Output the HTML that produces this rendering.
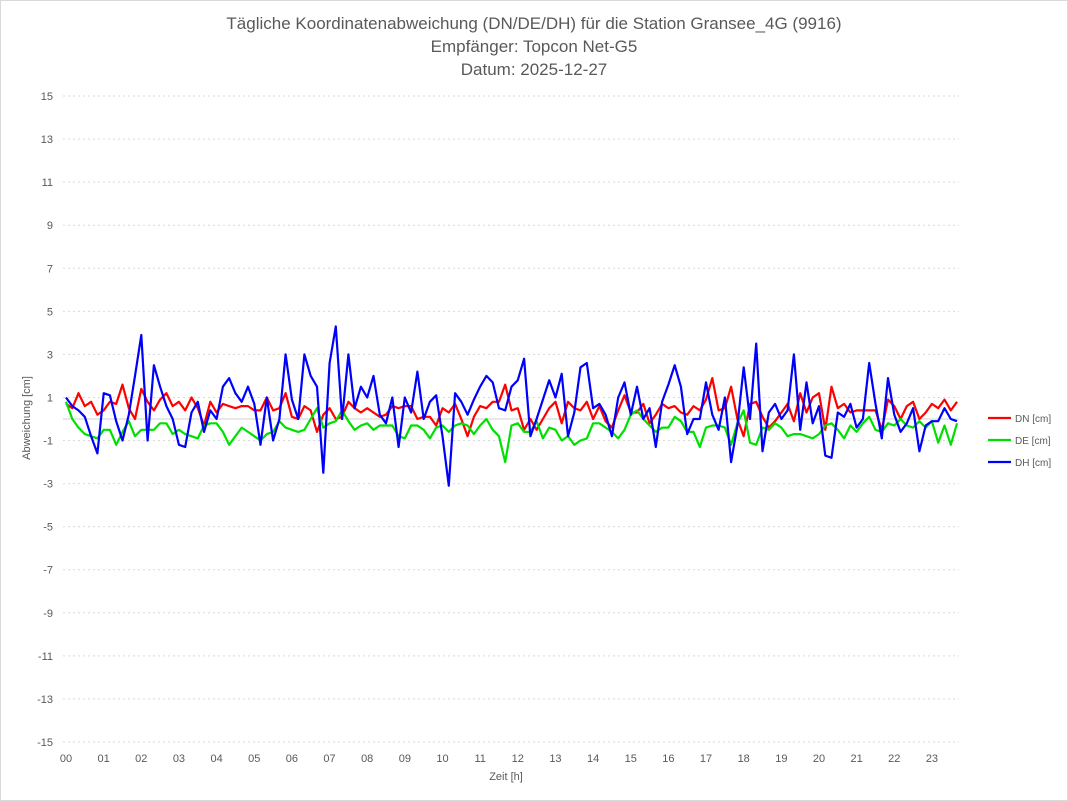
<!DOCTYPE html>
<html><head><meta charset="utf-8"><style>
body{margin:0;background:#fff}
#wrap{position:relative;width:1066px;height:799px;border:1px solid #d9d9d9;font-family:"Liberation Sans",sans-serif;overflow:hidden}
svg text{font-family:"Liberation Sans",sans-serif}
</style></head><body>
<div id="wrap">
<svg id="chart" width="1066" height="799">
<g fill="#595959" font-size="17" text-anchor="middle">
<text x="533" y="28">Tägliche Koordinatenabweichung (DN/DE/DH) für die Station Gransee_4G (9916)</text>
<text x="533" y="51">Empfänger: Topcon Net-G5</text>
<text x="533" y="74">Datum: 2025-12-27</text>
</g>
<g id="grid"></g>
<g id="yticks"></g>
<g id="xticks"></g>
<g id="series"></g>
<text x="0" y="0" transform="translate(29,417) rotate(-90)" text-anchor="middle" font-size="11" fill="#595959">Abweichung [cm]</text>
<text x="505" y="779" text-anchor="middle" font-size="11" fill="#595959">Zeit [h]</text>
<g id="legend"></g>
</svg>
</div>
<script>
const yTicks=[15,13,11,9,7,5,3,1,-1,-3,-5,-7,-9,-11,-13,-15];
const xTickLabels=["00","01","02","03","04","05","06","07","08","09","10","11","12","13","14","15","16","17","18","19","20","21","22","23"];
const seriesNames=["DN [cm]","DE [cm]","DH [cm]"];
const dn=[0.7,0.5,1.2,0.6,0.8,0.2,0.4,0.8,0.7,1.6,0.5,0.0,1.4,0.8,0.4,0.9,1.2,0.6,0.8,0.4,1.0,0.5,-0.3,0.8,
0.3,0.7,0.6,0.5,0.6,0.6,0.4,0.4,1.0,0.4,0.5,1.2,0.1,0.0,0.6,0.4,-0.6,0.2,0.5,0.0,0.1,0.8,0.5,0.3,
0.5,0.3,0.1,0.2,0.6,0.5,0.6,0.6,0.0,0.1,0.1,-0.3,0.5,0.3,0.7,0.0,-0.8,0.1,0.6,0.5,0.8,0.8,1.6,0.4,
0.5,-0.5,0.0,-0.5,0.0,0.5,0.8,-0.2,0.8,0.5,0.4,0.8,0.0,0.6,-0.1,-0.4,0.4,1.1,0.3,0.3,0.7,-0.2,0.2,0.7,
0.5,0.6,0.3,0.2,0.6,0.4,0.9,1.9,0.4,0.5,1.5,0.0,-0.8,0.7,0.8,0.1,-0.4,-0.1,0.3,0.7,-0.1,1.2,0.3,1.0,
1.2,-0.5,1.5,0.5,0.7,0.3,0.4,0.4,0.4,0.4,-0.5,0.9,0.6,0.0,0.6,0.8,0.0,0.3,0.7,0.5,0.9,0.4,0.8];
const de=[0.8,0.0,-0.4,-0.7,-0.8,-0.9,-0.5,-0.5,-1.2,-0.6,-0.1,-0.8,-0.5,-0.5,-0.5,-0.2,-0.2,-0.7,-0.5,-0.7,-0.8,-0.9,-0.3,-0.2,
-0.2,-0.6,-1.2,-0.8,-0.4,-0.6,-0.8,-1.0,-0.7,-0.6,-0.1,-0.4,-0.5,-0.6,-0.5,0.0,0.5,-0.4,-0.2,-0.1,0.4,-0.1,-0.5,-0.3,
-0.2,-0.5,-0.3,-0.3,-0.3,-0.8,-0.9,-0.3,-0.3,-0.5,-0.9,-0.4,-0.3,-0.6,-0.3,-0.2,-0.3,-0.7,-0.3,0.0,-0.5,-0.8,-2.0,-0.3,
-0.2,-0.6,-0.6,-0.1,-0.9,-0.4,-0.5,-1.0,-0.8,-1.2,-1.0,-0.9,-0.2,-0.2,-0.4,-0.6,-0.9,-0.5,0.2,0.4,0.0,-0.3,-0.6,-0.4,
-0.4,0.1,-0.1,-0.6,-0.6,-1.3,-0.4,-0.3,-0.3,-0.4,-1.2,-0.2,0.4,-1.1,-1.2,-0.4,-0.5,-0.2,-0.4,-0.8,-0.7,-0.7,-0.8,-0.9,
-0.7,-0.3,-0.2,-0.5,-0.9,-0.3,-0.6,-0.2,0.1,-0.5,-0.6,-0.2,-0.3,0.0,-0.3,-0.4,-0.1,-0.4,-0.1,-1.1,-0.3,-1.2,-0.2];
const dh=[1.0,0.6,0.4,0.1,-0.8,-1.6,1.2,1.1,-0.1,-1.0,0.2,2.0,3.9,-1.0,2.5,1.5,0.6,0.0,-1.2,-1.3,0.3,0.8,-0.6,0.4,
0.0,1.5,1.9,1.2,0.8,1.5,0.7,-1.2,1.0,-1.0,0.0,3.0,0.9,0.0,3.0,2.0,1.5,-2.5,2.6,4.3,0.0,3.0,0.5,1.5,
1.0,2.0,0.2,-0.2,1.0,-1.3,1.0,0.3,2.2,0.0,0.8,1.1,-0.8,-3.1,1.2,0.8,0.2,0.9,1.5,2.0,1.7,0.5,0.4,1.5,
1.8,2.8,-0.8,0.0,0.9,1.8,1.0,2.1,-0.8,0.3,2.4,2.6,0.5,0.7,0.2,-0.8,1.0,1.7,0.2,1.5,0.0,0.5,-1.3,0.8,
1.6,2.5,1.5,-0.7,0.0,0.0,1.7,0.2,-0.5,1.0,-2.0,-0.3,2.4,0.0,3.5,-1.5,0.3,0.7,0.0,0.4,3.0,-0.5,1.7,-0.2,
0.6,-1.7,-1.8,0.3,0.1,0.7,-0.4,0.0,2.6,0.7,-0.9,1.9,0.2,-0.6,-0.2,0.5,-1.5,-0.3,-0.1,-0.1,0.5,0.0,-0.1];
const colors=["#ff0000","#00e000","#0000ff"];
const NS="http://www.w3.org/2000/svg";
const X0=65,PXH=37.65,Y0=418,PXU=21.53;
const xs=h=>X0+h*PXH, ys=v=>Y0-v*PXU;
const grid=document.getElementById('grid'),yt=document.getElementById('yticks'),xt=document.getElementById('xticks');
yTicks.forEach(v=>{
 const l=document.createElementNS(NS,'line');
 
 
 l.setAttribute('x1',62);l.setAttribute('x2',958);l.setAttribute('y1',ys(v));l.setAttribute('y2',ys(v));
 l.setAttribute('stroke','#d9d9d9');l.setAttribute('stroke-dasharray','2,3');grid.appendChild(l);
 const t=document.createElementNS(NS,'text');
 
 
 t.setAttribute('x',52);t.setAttribute('y',ys(v)+4);t.setAttribute('text-anchor','end');t.setAttribute('font-size','11');t.setAttribute('fill','#595959');
 t.textContent=v;yt.appendChild(t);
});
const z=document.createElementNS(NS,'line');


z.setAttribute('x1',62);z.setAttribute('x2',958);z.setAttribute('y1',ys(0));z.setAttribute('y2',ys(0));z.setAttribute('stroke','#d0d0d0');grid.appendChild(z);
xTickLabels.forEach((s,i)=>{
 const t=document.createElementNS(NS,'text');
 
 
 t.setAttribute('x',xs(i));t.setAttribute('y',761);t.setAttribute('text-anchor','middle');t.setAttribute('font-size','11');t.setAttribute('fill','#595959');
 t.textContent=s;xt.appendChild(t);
});
const ser=document.getElementById('series');
[dn,de,dh].forEach((arr,si)=>{
 const p=document.createElementNS(NS,'polyline');
 
 
 p.setAttribute('points',arr.map((v,i)=>xs(i/6).toFixed(1)+','+ys(v).toFixed(1)).join(' '));
 p.setAttribute('fill','none');p.setAttribute('stroke',colors[si]);p.setAttribute('stroke-width','2.2');p.setAttribute('stroke-linejoin','round');
 ser.appendChild(p);
});
const lg=document.getElementById('legend');
seriesNames.forEach((n,i)=>{
 const l=document.createElementNS(NS,'line');
 
 
 l.setAttribute('x1',987);l.setAttribute('x2',1010);l.setAttribute('y1',417+i*22);l.setAttribute('y2',417+i*22);l.setAttribute('stroke',colors[i]);l.setAttribute('stroke-width','2.2');lg.appendChild(l);
 const t=document.createElementNS(NS,'text');
 
 
 t.setAttribute('x',1014);t.setAttribute('y',421+i*22);t.setAttribute('font-size','10');t.setAttribute('fill','#595959');
 t.textContent=n;lg.appendChild(t);
});
</script>
</body></html>
